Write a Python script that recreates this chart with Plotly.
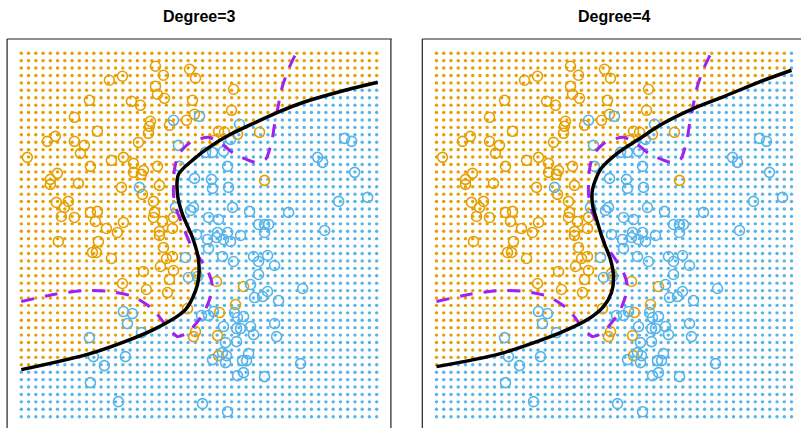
import numpy as np
import plotly.graph_objects as go

# ---------------- data (arbitrary units, no axes shown) ----------------
orange_x1 = [134,142,101,88,168,174,134,136,143,212,68,110,119,171,210,53,173,165,76,34,
             26,53,63,59,6,90,102,69,112,122,112,120,129,128,127,148,117,136,36,29,
             29,57,100,138,121,35,47,43,132,40,53,69,76,74,85,102,96,133,132,141,
             152,138,151,197,216,238,243,37,77,71,75,90,122,101,125,138,142,145,151,139,
             152,148,146,166,174,172,195,222,214,198,196,197,175,193,203]
orange_x2 = [350,341,340,336,347,338,330,322,318,327,316,315,311,316,306,299,302,296,285,280,
             275,275,271,263,259,256,259,250,253,246,244,242,295,290,283,291,274,250,243,237,
             232,233,229,231,222,214,215,209,215,200,199,204,205,195,188,194,184,204,199,195,
             199,185,188,285,282,284,236,175,175,164,164,158,145,133,127,181,169,158,160,150,
             146,137,124,108,85,80,135,130,112,104,81,61,143,276,284]

blue_x1 = [152,178,157,158,173,118,154,169,172,209,218,184,191,202,206,190,191,207,211,228,
           187,197,267,323,330,296,301,333,317,346,237,243,247,303,196,206,219,186,195,202,
           209,243,175,187,201,212,232,237,246,253,237,281,229,233,241,246,257,187,192,180,
           213,222,216,202,215,219,229,232,253,255,204,215,201,205,227,191,204,221,225,279,
           222,216,243,181,206,164,167,176,102,111,106,120,68,72,104,83,69,97]
blue_x2 = [296,300,271,250,238,229,209,206,209,277,292,264,264,265,250,237,228,229,209,205,
           199,197,204,278,275,259,254,244,215,219,192,192,192,186,184,184,181,177,179,177,
           175,184,182,168,160,155,160,155,161,151,142,128,132,119,120,125,116,101,105,101,
           104,100,99,90,88,88,90,82,93,80,74,75,64,61,63,57,54,56,56,53,
           44,41,40,13,5,159,139,140,105,103,93,84,79,60,60,51,34,15]

# Bayes decision boundary (purple dashed), same in both panels
bayes_x1 = [0,32,62,89,112,132,146,156,165,172,182,188,191,187,179,169,162,155,152,153,
            157,169,187,201,212,234,244,250,253,256,260,266,274]
bayes_x2 = [115,122,126,125,120,107,89,80,83,90,103,117,130,144,157,172,189,207,222,247,
            262,274,279,272,263,254,257,274,292,307,327,345,362]

# Fitted logistic-regression boundaries (black)
deg3_x1 = [0,72,132,164,176,177,171,161,156,157,172,189,209,232,256,282,316,356]
deg3_x2 = [47,64,87,107,132,157,179,202,222,242,257,270,282,293,304,314,324,334]
deg4_x1 = [0,64,124,151,167,175,177,174,167,161,156,156,164,182,202,225,255,288,322,355]
deg4_x2 = [50,63,84,97,110,124,140,157,175,194,212,227,247,264,277,292,307,320,334,346]

titles = ["Degree=3", "Degree=4"]

# ---------------- style ----------------
ORANGE = "#E69F00"
BLUE = "#56B4E9"
PURPLE = "#A020F0"
GRID_N = 50
X1_MAX, X2_MAX = 355, 363

W, H = 801, 428
fig = go.Figure()

gx = np.linspace(0, X1_MAX, GRID_N)
gy = np.linspace(0, X2_MAX, GRID_N)
GX, GY = np.meshgrid(gx, gy)
GX = GX.ravel(); GY = GY.ravel()

panels = [(deg3_x1, deg3_x2, "x", "y"), (deg4_x1, deg4_x2, "x2", "y2")]
for cx, cy, xa, ya in panels:
    bx = np.interp(GY, cy, cx)
    is_orange = GX < bx
    for mask, col in [(is_orange, ORANGE), (~is_orange, BLUE)]:
        fig.add_trace(go.Scatter(x=GX[mask], y=GY[mask], mode="markers", xaxis=xa, yaxis=ya,
                                 marker=dict(size=3.4, color=col, line=dict(width=0)),
                                 hoverinfo="skip", showlegend=False))
    fig.add_trace(go.Scatter(x=orange_x1, y=orange_x2, mode="markers", xaxis=xa, yaxis=ya,
                             marker=dict(symbol="circle-open", size=10, color=ORANGE,
                                         line=dict(width=1.6, color=ORANGE)),
                             showlegend=False))
    fig.add_trace(go.Scatter(x=blue_x1, y=blue_x2, mode="markers", xaxis=xa, yaxis=ya,
                             marker=dict(symbol="circle-open", size=10, color=BLUE,
                                         line=dict(width=1.6, color=BLUE)),
                             showlegend=False))
    fig.add_trace(go.Scatter(x=bayes_x1, y=bayes_x2, mode="lines", xaxis=xa, yaxis=ya,
                             line=dict(color=PURPLE, width=3, dash="13px,11px",
                                       shape="spline", smoothing=0.6),
                             showlegend=False))
    fig.add_trace(go.Scatter(x=cx, y=cy, mode="lines", xaxis=xa, yaxis=ya,
                             line=dict(color="black", width=3.5, shape="spline", smoothing=0.8),
                             showlegend=False))

# layout geometry (pixels)
L_left, L_right = 7.1, 390.9
R_left = 422.3
top_px = 39
y_dom_top = 1 - top_px / H
pad = 14.2

ax_common = dict(visible=False, showgrid=False, zeroline=False, fixedrange=True)
fig.update_layout(
    width=W, height=H, margin=dict(l=0, r=0, t=0, b=0),
    paper_bgcolor="white", plot_bgcolor="white",
    xaxis=dict(domain=[L_left / W, L_right / W], range=[-pad, X1_MAX + pad], **ax_common),
    yaxis=dict(domain=[0, y_dom_top], range=[-11.3, X2_MAX + pad], **ax_common),
    xaxis2=dict(domain=[R_left / W, 1], range=[-pad, -pad + (W - R_left)], anchor="y2", **ax_common),
    yaxis2=dict(domain=[0, y_dom_top], range=[-11.3, X2_MAX + pad], anchor="x2", **ax_common),
)

# frames (bottom edge lies below the visible window)
shapes = []
for xr, yr, sides in [("x domain", "y domain", ["l", "t", "r"]), ("x2 domain", "y2 domain", ["l", "t"])]:
    for s in sides:
        if s == "l":
            c = dict(x0=0, x1=0, y0=-0.05, y1=1)
        elif s == "r":
            c = dict(x0=1, x1=1, y0=-0.05, y1=1)
        else:
            c = dict(x0=0, x1=1.002, y0=1, y1=1)
        shapes.append(dict(type="line", xref=xr, yref=yr, line=dict(color="#222222", width=1.2), **c))
fig.update_layout(shapes=shapes)

centers = [(L_left + L_right) / 2, R_left + (L_right - L_left) / 2]
for t, cxp in zip(titles, centers):
    fig.add_annotation(text="<b>%s</b>" % t, x=cxp / W, y=1 - 16 / H, xref="paper", yref="paper",
                       xanchor="center", yanchor="middle", showarrow=False,
                       font=dict(family="Liberation Sans, Arial", size=16, color="black"))

fig.write_html("out.html")
